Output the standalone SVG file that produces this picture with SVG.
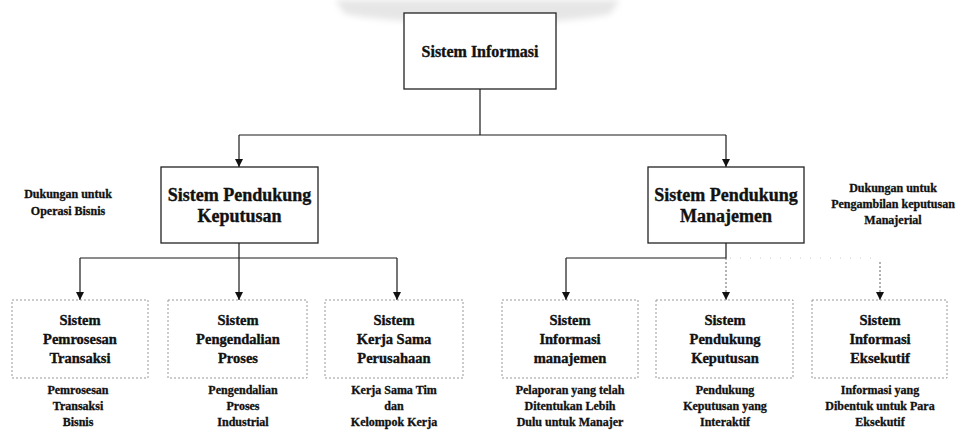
<svg xmlns="http://www.w3.org/2000/svg" width="972" height="433" viewBox="0 0 972 433">
  <style>
    text { font-family: "Liberation Serif", "Times New Roman", serif; font-weight: bold; fill: #111; stroke: #111; stroke-width: 0.35; text-anchor: middle; }
    .t1 { font-size: 16px; }
    .t2 { font-size: 18px; }
    .t3 { font-size: 14.5px; }
    .cap { font-size: 12px; stroke-width: 0.3; }
    .solid { fill: #fff; stroke: #222; stroke-width: 1.3; }
    .dot { fill: #fff; stroke: #999; stroke-width: 1; stroke-dasharray: 2 2; }
    .wire { fill: none; stroke: #1a1a1a; stroke-width: 1.2; }
    .wire-dot { fill: none; stroke: #666; stroke-width: 1; stroke-dasharray: 2 2; }
    .wire-faint { fill: none; stroke: #ccc; stroke-width: 1; stroke-dasharray: 1 9; }
  </style>
  <defs>
    <marker id="arrow" viewBox="0 0 10 10" refX="10" refY="5" markerWidth="8" markerHeight="8" markerUnits="userSpaceOnUse" orient="auto">
      <path d="M0,0 L10,5 L0,10 Z" fill="#111"/>
    </marker>
    <filter id="soft" x="-10%" y="-50%" width="120%" height="200%">
      <feGaussianBlur stdDeviation="3"/>
    </filter>
  </defs>
  <rect width="972" height="433" fill="#fff"/>

  <!-- faint emblem at the top edge -->
  <path d="M335 0 H620 L610 14 Q560 24 480 22 Q400 24 345 14 Z" fill="#e6e6e6" filter="url(#soft)"/>

  <!-- connectors -->
  <g id="connectors">
    <path class="wire" d="M480 89 V135 M239 135 H726"/>
    <path class="wire" d="M239 135 V167" marker-end="url(#arrow)"/>
    <path class="wire" d="M726 135 V167" marker-end="url(#arrow)"/>

    <path class="wire" d="M239 243 V258 M80 258 H397"/>
    <path class="wire" d="M80 258 V300" marker-end="url(#arrow)"/>
    <path class="wire" d="M239 258 V300" marker-end="url(#arrow)"/>
    <path class="wire" d="M397 258 V300" marker-end="url(#arrow)"/>

    <path class="wire" d="M726 243 V258 H566"/>
    <path class="wire" d="M566 258 V300" marker-end="url(#arrow)"/>
    <path class="wire-dot" d="M726 258 V300" marker-end="url(#arrow)"/>
    <path class="wire-faint" d="M730 258 H876"/>
    <path class="wire-dot" d="M880 262 V300" marker-end="url(#arrow)"/>
  </g>

  <!-- top level -->
  <g id="sistem-informasi">
    <rect class="solid" x="404" y="13" width="152" height="76"/>
    <text class="t1" x="480" y="57">Sistem Informasi</text>
  </g>

  <!-- second level -->
  <g id="spk">
    <rect class="solid" x="161" y="167" width="157" height="76"/>
    <text class="t2" x="239.5" y="201">Sistem Pendukung</text>
    <text class="t2" x="239.5" y="222">Keputusan</text>
  </g>
  <g id="spm">
    <rect class="solid" x="648" y="167" width="156" height="76"/>
    <text class="t2" x="726" y="201">Sistem Pendukung</text>
    <text class="t2" x="726" y="222">Manajemen</text>
  </g>

  <g id="note-left">
    <text class="cap" x="68" y="198">Dukungan untuk</text>
    <text class="cap" x="68" y="215">Operasi Bisnis</text>
  </g>
  <g id="note-right">
    <text class="cap" x="893" y="192">Dukungan untuk</text>
    <text class="cap" x="893" y="208">Pengambilan keputusan</text>
    <text class="cap" x="893" y="224">Manajerial</text>
  </g>

  <!-- third level -->
  <g id="spt">
    <rect class="dot" x="12" y="300" width="136" height="78"/>
    <text class="t3" x="80" y="325">Sistem</text>
    <text class="t3" x="80" y="344">Pemrosesan</text>
    <text class="t3" x="80" y="363">Transaksi</text>
    <text class="cap" x="78" y="394">Pemrosesan</text>
    <text class="cap" x="78" y="410">Transaksi</text>
    <text class="cap" x="78" y="426">Bisnis</text>
  </g>
  <g id="spp">
    <rect class="dot" x="168" y="300" width="139" height="78"/>
    <text class="t3" x="238" y="325">Sistem</text>
    <text class="t3" x="238" y="344">Pengendalian</text>
    <text class="t3" x="238" y="363">Proses</text>
    <text class="cap" x="243" y="394">Pengendalian</text>
    <text class="cap" x="243" y="410">Proses</text>
    <text class="cap" x="243" y="426">Industrial</text>
  </g>
  <g id="sksp">
    <rect class="dot" x="325" y="300" width="138" height="78"/>
    <text class="t3" x="394" y="325">Sistem</text>
    <text class="t3" x="394" y="344">Kerja Sama</text>
    <text class="t3" x="394" y="363">Perusahaan</text>
    <text class="cap" x="394" y="394">Kerja Sama Tim</text>
    <text class="cap" x="394" y="410">dan</text>
    <text class="cap" x="394" y="426">Kelompok Kerja</text>
  </g>
  <g id="sim">
    <rect class="dot" x="502" y="300" width="136" height="78"/>
    <text class="t3" x="570" y="325">Sistem</text>
    <text class="t3" x="570" y="344">Informasi</text>
    <text class="t3" x="570" y="363">manajemen</text>
    <text class="cap" x="570" y="394">Pelaporan yang telah</text>
    <text class="cap" x="570" y="410">Ditentukan Lebih</text>
    <text class="cap" x="570" y="426">Dulu untuk Manajer</text>
  </g>
  <g id="spk2">
    <rect class="dot" x="656" y="300" width="137" height="78"/>
    <text class="t3" x="725" y="325">Sistem</text>
    <text class="t3" x="725" y="344">Pendukung</text>
    <text class="t3" x="725" y="363">Keputusan</text>
    <text class="cap" x="725" y="394">Pendukung</text>
    <text class="cap" x="725" y="410">Keputusan yang</text>
    <text class="cap" x="725" y="426">Interaktif</text>
  </g>
  <g id="sie">
    <rect class="dot" x="812" y="300" width="135" height="78"/>
    <text class="t3" x="880" y="325">Sistem</text>
    <text class="t3" x="880" y="344">Informasi</text>
    <text class="t3" x="880" y="363">Eksekutif</text>
    <text class="cap" x="880" y="394">Informasi yang</text>
    <text class="cap" x="880" y="410">Dibentuk untuk Para</text>
    <text class="cap" x="880" y="426">Eksekutif</text>
  </g>
</svg>
